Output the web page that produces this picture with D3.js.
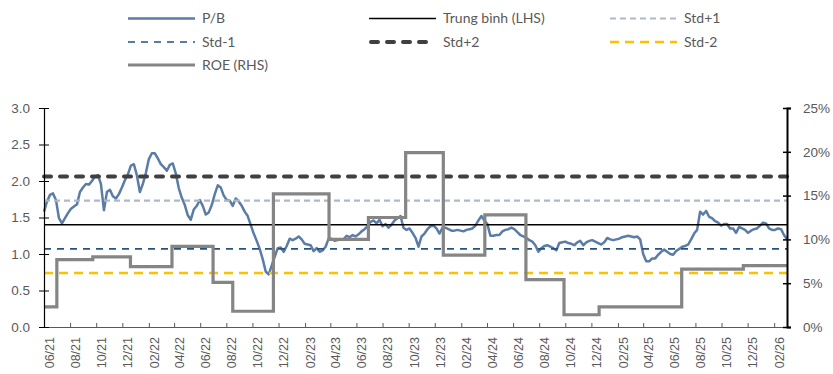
<!DOCTYPE html>
<html>
<head>
<meta charset="utf-8">
<script src="https://cdn.jsdelivr.net/npm/d3@7"></script>
<style>
  html, body { margin: 0; padding: 0; background: #fff; }
  svg { display: block; font-family: Lato, "Open Sans", sans-serif; }
  .tick text { fill: #595959; }
</style>
</head>
<body>
<svg id="chart" width="833" height="374"></svg>
<script>
// Weekly P/B series (start date + step)
const pbStart = "2021-06-01";
const pbStepDays = 7;
const pbValues = [
  1.58, 1.72, 1.81, 1.83, 1.74, 1.49, 1.42, 1.49, 1.56, 1.62,
  1.65, 1.68, 1.85, 1.91, 1.96, 1.95, 2.00, 2.06, 2.08, 1.96,
  1.60, 1.85, 1.88, 1.79, 1.76, 1.82, 1.91, 2.01, 2.09, 2.21,
  2.23, 2.08, 1.85, 1.96, 2.11, 2.30, 2.38, 2.38, 2.31, 2.23,
  2.19, 2.14, 2.22, 2.24, 2.10, 1.90, 1.77, 1.67, 1.53, 1.47,
  1.61, 1.66, 1.74, 1.66, 1.54, 1.57, 1.67, 1.82, 1.94, 1.91,
  1.80, 1.74, 1.73, 1.66, 1.76, 1.72, 1.66, 1.58, 1.52, 1.40,
  1.28, 1.18, 1.07, 0.93, 0.76, 0.72, 0.84, 0.96, 1.08, 1.09,
  1.03, 1.11, 1.21, 1.19, 1.21, 1.24, 1.20, 1.14, 1.13, 1.12,
  1.04, 1.08, 1.03, 1.05, 1.10, 1.21, 1.21, 1.18, 1.19, 1.20,
  1.20, 1.25, 1.23, 1.26, 1.24, 1.27, 1.31, 1.34, 1.38, 1.44,
  1.46, 1.42, 1.47, 1.38, 1.41, 1.36, 1.40, 1.46, 1.49, 1.52,
  1.36, 1.33, 1.35, 1.29, 1.22, 1.10, 1.24, 1.28, 1.34, 1.38,
  1.39, 1.35, 1.28, 1.36, 1.36, 1.34, 1.32, 1.32, 1.33, 1.32,
  1.31, 1.33, 1.34, 1.35, 1.39, 1.46, 1.52, 1.46, 1.41, 1.25,
  1.25, 1.26, 1.26, 1.31, 1.33, 1.34, 1.36, 1.34, 1.30, 1.26,
  1.24, 1.22, 1.19, 1.17, 1.12, 1.03, 1.08, 1.11, 1.12, 1.10,
  1.08, 1.05, 1.15, 1.16, 1.17, 1.15, 1.14, 1.12, 1.16, 1.18,
  1.12, 1.16, 1.18, 1.19, 1.17, 1.15, 1.13, 1.16, 1.22, 1.20,
  1.19, 1.20, 1.21, 1.23, 1.24, 1.25, 1.24, 1.23, 1.24, 1.20,
  1.00, 0.90, 0.90, 0.94, 0.94, 0.99, 1.03, 1.06, 1.03, 1.00,
  0.99, 1.04, 1.07, 1.10, 1.11, 1.13, 1.20, 1.28, 1.33, 1.58,
  1.54, 1.59, 1.51, 1.49, 1.45, 1.43, 1.39, 1.41, 1.41, 1.35,
  1.35, 1.29, 1.37, 1.35, 1.33, 1.29, 1.32, 1.34, 1.35, 1.39,
  1.43, 1.42, 1.35, 1.33, 1.33, 1.35, 1.34, 1.26, 1.20
];

// Average and standard-deviation bands (left axis)
const bandNames  = ["Trung bình (LHS)", "Std+1", "Std-1", "Std+2", "Std-2"];
const bandValues = [1.40, 1.73, 1.07, 2.06, 0.74];

// ROE (right axis, %): value in force from each date onward
const roeDates  = ["2021-06-01", "2021-07-01", "2021-09-23", "2021-12-20", "2022-03-27",
                   "2022-07-01", "2022-08-16", "2022-11-19", "2023-03-29", "2023-06-29",
                   "2023-09-24", "2023-12-21", "2024-03-27", "2024-07-01", "2024-09-28",
                   "2024-12-19", "2025-06-30", "2025-11-21"];
const roeValues = [2.3, 7.7, 8.0, 6.9, 9.2, 5.1, 1.8, 15.2, 10.0, 12.5,
                   19.9, 8.2, 12.8, 5.4, 1.4, 2.3, 6.6, 7.0];

const leftTicks  = [0, 0.5, 1.0, 1.5, 2.0, 2.5, 3.0];
const rightTicks = [0, 5, 10, 15, 20, 25];

const parse = d3.timeParse("%Y-%m-%d");
const t0 = parse(pbStart);
const pb = pbValues.map((v, i) => ({ date: d3.timeDay.offset(t0, i * pbStepDays), value: v }));
const endDate = pb[pb.length - 1].date;

const roe = roeDates.map((d, i) => ({ date: parse(d), value: roeValues[i] }));
roe.push({ date: endDate, value: roeValues[roeValues.length - 1] });

const svg = d3.select("#chart");
const plot = { left: 44, right: 787, top: 108, bottom: 327 };

const x = d3.scaleTime().domain([t0, endDate]).range([plot.left, plot.right]);
const yL = d3.scaleLinear().domain([0, 3]).range([plot.bottom, plot.top]);
const yR = d3.scaleLinear().domain([0, 25]).range([plot.bottom, plot.top]);

// P/B line
svg.append("path")
  .datum(pb)
  .attr("fill", "none")
  .attr("stroke", "#5a7ca6")
  .attr("stroke-width", 2.5)
  .attr("stroke-linejoin", "round")
  .attr("d", d3.line().x(d => x(d.date)).y(d => yL(d.value)));

// Band lines
const bandStyles = [
  { color: "#000000", width: 1.5, dash: null, cap: "butt" },
  { color: "#adb9ca", width: 2.2, dash: "6,4", cap: "butt" },
  { color: "#27527e", width: 1.6, dash: "7,6", cap: "butt" },
  { color: "#404040", width: 4, dash: "7,9", cap: "round" },
  { color: "#ffc000", width: 2.4, dash: "9,6", cap: "butt" }
];

bandValues.forEach((v, i) => {
  const s = bandStyles[i];
  svg.append("line")
    .attr("x1", plot.left).attr("x2", plot.right)
    .attr("y1", yL(v)).attr("y2", yL(v))
    .attr("stroke", s.color)
    .attr("stroke-width", s.width)
    .attr("stroke-linecap", s.cap)
    .attr("stroke-dasharray", s.dash);
});

// ROE step line
const roeColor = "#858585";
svg.append("path")
  .datum(roe)
  .attr("fill", "none")
  .attr("stroke", roeColor)
  .attr("stroke-width", 3.2)
  .attr("d", d3.line().curve(d3.curveStepAfter).x(d => x(d.date)).y(d => yR(d.value)));

// Axes
const xTicks = d3.timeMonth.range(t0, endDate, 2);
const xAxis = svg.append("g")
  .attr("transform", `translate(0,${plot.bottom})`)
  .call(d3.axisBottom(x).tickValues(xTicks).tickSize(-4).tickFormat(d3.timeFormat("%m/%y")));
xAxis.select(".domain").attr("stroke", "#595959");
xAxis.selectAll(".tick line").attr("stroke", "#595959");
xAxis.selectAll(".tick text")
  .attr("transform", "rotate(-90)")
  .attr("text-anchor", "end")
  .attr("x", -10)
  .attr("y", 5)
  .attr("dy", "0.35em")
  .style("font-size", "12.5px");

const leftAxis = svg.append("g")
  .attr("transform", `translate(${plot.left},0)`)
  .call(d3.axisLeft(yL).tickValues(leftTicks).tickSize(5).tickPadding(9).tickFormat(d3.format(".1f")));
leftAxis.select(".domain").attr("stroke", "#000").attr("stroke-width", 1.2);
leftAxis.selectAll(".tick line").attr("stroke", "#000").attr("x2", -5).attr("x1", 5);
leftAxis.selectAll(".tick text").style("font-size", "13.5px");

const rightAxis = svg.append("g")
  .attr("transform", `translate(${plot.right},0)`)
  .call(d3.axisRight(yR).tickValues(rightTicks).tickSize(4).tickPadding(12).tickFormat(d => d + "%"));
rightAxis.select(".domain").attr("stroke", "#000").attr("stroke-width", 2);
rightAxis.selectAll(".tick line").attr("stroke", "#000").attr("stroke-width", 1.5).attr("x1", -4).attr("x2", 4);
rightAxis.selectAll(".tick text").style("font-size", "13.5px");

// Legend
const legendItems = [
  { label: "P/B", color: "#5a7ca6", width: 2.6, dash: null, cap: "butt", col: 0, row: 0 },
  { label: bandNames[0], ...bandStyles[0], col: 1, row: 0 },
  { label: bandNames[1], ...bandStyles[1], col: 2, row: 0 },
  { label: bandNames[2], ...bandStyles[2], col: 0, row: 1 },
  { label: bandNames[3], ...bandStyles[3], col: 1, row: 1 },
  { label: bandNames[4], ...bandStyles[4], col: 2, row: 1 },
  { label: "ROE (RHS)", color: roeColor, width: 3, dash: null, cap: "butt", col: 0, row: 2 }
];
const colX = [128, 369, 610];
const rowY = [18.5, 42, 65];

const legend = svg.append("g");
legendItems.forEach(it => {
  const lx = colX[it.col], ly = rowY[it.row];
  const lineEnd = it.cap === "round" ? lx + 66 : lx + 67;
  legend.append("line")
    .attr("x1", it.cap === "round" ? lx + 2 : lx).attr("x2", lineEnd)
    .attr("y1", ly).attr("y2", ly)
    .attr("stroke", it.color)
    .attr("stroke-width", it.width)
    .attr("stroke-linecap", it.cap)
    .attr("stroke-dasharray", it.dash);
  legend.append("text")
    .attr("x", lx + 74)
    .attr("y", ly)
    .attr("dy", "0.35em")
    .attr("fill", "#595959")
    .style("font-size", "14px")
    .text(it.label);
});
</script>
</body>
</html>
